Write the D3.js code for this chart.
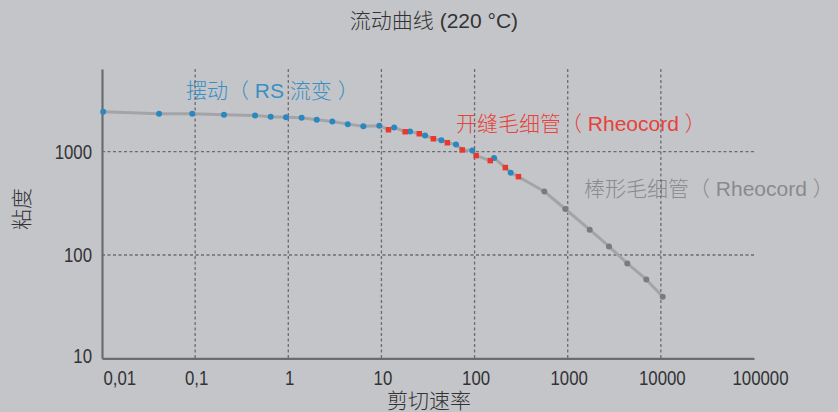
<!DOCTYPE html>
<html>
<head>
<meta charset="utf-8">
<script src="https://cdn.jsdelivr.net/npm/d3@7"></script>
<style>
  html, body { margin: 0; padding: 0; background: #c4c5c9; }
  svg { display: block; }
  .cjk { font-family: "Liberation Sans", "Noto Sans CJK SC", sans-serif; font-weight: 300; }
  .num { font-family: "Liberation Sans", sans-serif; }
</style>
</head>
<body>
<svg id="chart" width="838" height="412"></svg>
<script>
// Flow curve at 220 °C: shear rate (1/s) vs viscosity (Pa·s), log–log
const title = "流动曲线 (220 °C)";
const xLabel = "剪切速率";
const yLabel = "粘度";

const xTicks = [0.01, 0.1, 1, 10, 100, 1000, 10000, 100000];
const yTicks = [10, 100, 1000];
const xGrid = [0.1, 1, 10, 100, 1000, 10000];
const yGrid = [100, 1000];

// Oscillation (RS rheometer)
const rsName = "摆动（ RS 流变 ）";
const rsRate = [0.0103, 0.041, 0.093, 0.204, 0.44, 0.647, 0.945, 1.39, 2.02, 2.97, 4.35, 6.39, 9.49,
                13.7, 20.3, 29.4, 44, 63.2, 94.6, 162, 244];
const rsVisc = [2435, 2330, 2330, 2278, 2243, 2178, 2159, 2131, 2037, 1963, 1849, 1768, 1784,
                1717, 1570, 1437, 1294, 1176, 1029, 871, 627];

// Slit capillary (Rheocord)
const slitName = "开缝毛细管（ Rheocord ）";
const slitRate = [11.9, 18.0, 25.5, 36.1, 51, 73.8, 104, 147.5, 214, 296];
const slitVisc = [1632, 1560, 1493, 1335, 1222, 1040, 916, 820, 702, 573];

// Rod capillary (Rheocord)
const rodName = "棒形毛细管（ Rheocord ）";
const rodRate = [561, 942, 1722, 2775, 4365, 6980, 10470];
const rodVisc = [412, 279, 176, 121, 82.8, 58, 39.4];

const svg = d3.select("#chart");
const W = 838, H = 412;
const m = { left: 102, right: 84, top: 69, bottom: 53.7 };

const x = d3.scaleLog().domain([0.01, 100000]).range([m.left, W - m.right]);
const y = d3.scaleLog().domain([10, 6320]).range([H - m.bottom, m.top]);

const C = {
  bg: "#c4c5c9", axis: "#6c6c6e", grid: "#6c6c6e", text: "#333335",
  line: "#a3a4a7", blue: "#2a88bf", red: "#e8392f", gray: "#7b7b7e",
  blueText: "#3a8fc2", redText: "#e8413a", grayText: "#8a8a8c"
};

svg.append("rect").attr("width", W).attr("height", H).attr("fill", C.bg);

// Title and axis titles
svg.append("text").attr("class", "cjk")
  .attr("x", 434).attr("y", 28).attr("text-anchor", "middle")
  .attr("font-size", 21).attr("fill", C.text).text(title);

svg.append("text").attr("class", "cjk")
  .attr("x", 429).attr("y", 408).attr("text-anchor", "middle")
  .attr("font-size", 21).attr("fill", C.text).text(xLabel);

svg.append("text").attr("class", "cjk")
  .attr("transform", "translate(29,209) rotate(-90)")
  .attr("text-anchor", "middle")
  .attr("font-size", 21).attr("fill", C.text).text(yLabel);

// Series names
const labels = [
  { t: rsName, x: 186, y: 98, c: C.blueText },
  { t: slitName, x: 456, y: 131, c: C.redText },
  { t: rodName, x: 584, y: 196, c: C.grayText }
];
svg.append("g").selectAll("text").data(labels).join("text")
  .attr("class", "cjk")
  .attr("x", d => d.x).attr("y", d => d.y)
  .attr("font-size", 21).attr("fill", d => d.c)
  .text(d => d.t);

// Grid
const grid = svg.append("g").attr("stroke", C.grid).attr("stroke-width", 1.3)
  .attr("stroke-dasharray", "3,2.5");
grid.selectAll(".vg").data(xGrid).join("line")
  .attr("x1", d => x(d)).attr("x2", d => x(d))
  .attr("y1", m.top).attr("y2", H - m.bottom);
grid.selectAll(".hg").data(yGrid).join("line")
  .attr("x1", m.left).attr("x2", W - m.right)
  .attr("y1", d => y(d)).attr("y2", d => y(d));

// Axes
const fmt = v => String(v).replace(".", ",");
const xAxis = svg.append("g")
  .attr("transform", `translate(0,${H - m.bottom})`)
  .call(d3.axisBottom(x).tickValues(xTicks).tickFormat(fmt).tickSize(0).tickPadding(12));
const yAxis = svg.append("g")
  .attr("transform", `translate(${m.left},0)`)
  .call(d3.axisLeft(y).tickValues(yTicks).tickFormat(fmt).tickSize(0).tickPadding(10));

[xAxis, yAxis].forEach(g => {
  g.select(".domain").attr("stroke", C.axis).attr("stroke-width", 2.2);
  g.selectAll("text").attr("class", "num").attr("font-size", 21)
    .attr("fill", C.text).attr("font-family", null);
});
xAxis.selectAll(".tick text")
  .attr("text-anchor", d => d === 0.01 ? "start" : "middle")
  .attr("dx", d => d === 0.01 ? 1 : (d === 100000 ? 6 : 1));
yAxis.selectAll(".tick text").attr("dy", d => d === 10 ? "0.18em" : "0.32em");

// Condensed numerals: squeeze each tick label horizontally
svg.selectAll(".tick text").each(function () {
  const w = this.getComputedTextLength();
  d3.select(this).attr("textLength", w * 0.8).attr("lengthAdjust", "spacingAndGlyphs");
});

// Connecting curve through all measurements
const all = [];
rsRate.forEach((r, i) => all.push([r, rsVisc[i]]));
slitRate.forEach((r, i) => all.push([r, slitVisc[i]]));
rodRate.forEach((r, i) => all.push([r, rodVisc[i]]));
all.sort((a, b) => a[0] - b[0]);

svg.append("path").datum(all)
  .attr("fill", "none").attr("stroke", C.line).attr("stroke-width", 3)
  .attr("stroke-linejoin", "round").attr("stroke-linecap", "round")
  .attr("d", d3.line().x(d => x(d[0])).y(d => y(d[1])));

// Points
svg.append("g").selectAll("circle").data(rodRate).join("circle")
  .attr("cx", d => x(d)).attr("cy", (d, i) => y(rodVisc[i]))
  .attr("r", 3).attr("fill", C.gray);

svg.append("g").selectAll("circle").data(rsRate).join("circle")
  .attr("cx", d => x(d)).attr("cy", (d, i) => y(rsVisc[i]))
  .attr("r", 3).attr("fill", C.blue);

const s = 5.5;
svg.append("g").selectAll("rect").data(slitRate).join("rect")
  .attr("x", d => x(d) - s / 2).attr("y", (d, i) => y(slitVisc[i]) - s / 2)
  .attr("width", s).attr("height", s).attr("fill", C.red);
</script>
</body>
</html>
